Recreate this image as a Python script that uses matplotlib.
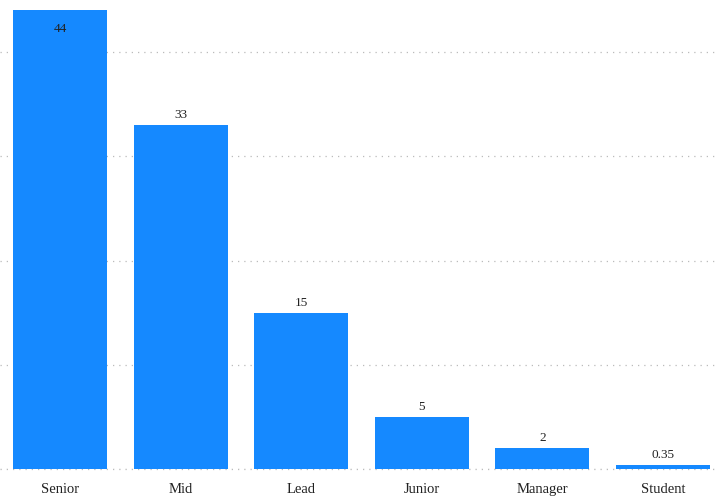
import numpy as np
import matplotlib.pyplot as plt

levels = ["Senior", "Mid", "Lead", "Junior", "Manager", "Student"]
shares = [44, 33, 15, 5, 2, 0.35]
labels = ["44", "33", "15", "5", "2", "0.35"]

plt.rcParams['font.family'] = ['Liberation Serif', 'DejaVu Serif']

fig = plt.figure(figsize=(7.16, 4.97), dpi=100)
ax = fig.add_axes([0, 28 / 497, 1, 469 / 497])

x = np.arange(len(levels))
ax.bar(x, shares, width=0.78, color='#1589FF', zorder=2)

for xi, v, lab in zip(x, shares, labels):
    if v > 40:
        ax.annotate(lab, (xi, v), xytext=(0, -9), textcoords='offset points',
                    ha='center', va='top', fontsize=9.5, color='#222222', zorder=3)
    else:
        ax.annotate(lab, (xi, v), xytext=(0, 3), textcoords='offset points',
                    ha='center', va='bottom', fontsize=9.5, color='#222222', zorder=3)

ax.set_xlim(-0.5, 5.44)
ax.set_ylim(0, 45)
ax.set_yticks([0, 10, 20, 30, 40])
ax.set_yticklabels([])
ax.yaxis.grid(True, linestyle=(0, (1, 4)), color='#bbbbbb', linewidth=0.9, zorder=0)
ax.axhline(0, linestyle=(0, (1, 4)), color='#bbbbbb', linewidth=0.9, zorder=1, clip_on=False)
ax.set_xticks(x)
ax.set_xticklabels(levels, fontsize=10.5, color='#222222')
ax.tick_params(axis='both', length=0, pad=10)
for s in ax.spines.values():
    s.set_visible(False)

fig.savefig("out.png", dpi=100)
